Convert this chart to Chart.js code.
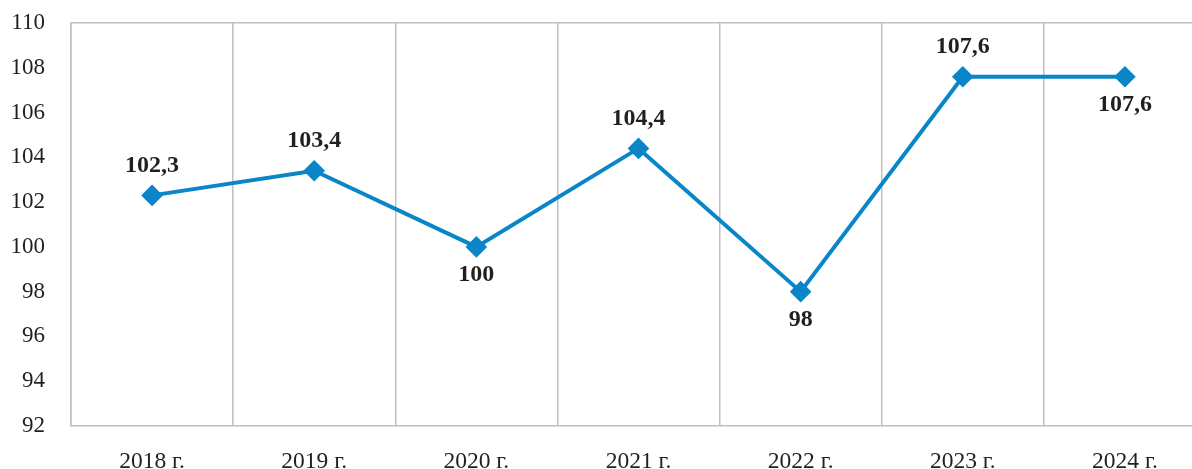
<!DOCTYPE html>
<html><head><meta charset="utf-8">
<script src="https://cdn.jsdelivr.net/npm/chart.js@4/dist/chart.umd.min.js"></script>
<style>
html,body{margin:0;padding:0;background:#fff;overflow:hidden;width:1192px;height:469px;}
#wrap{width:1230px;height:469px;position:relative;}
canvas{display:block;}
</style></head>
<body><div id="wrap"><canvas id="c" width="1218" height="469" style="width:1218px;height:469px"></canvas></div>
<script>
const categories = ['2018 г.','2019 г.','2020 г.','2021 г.','2022 г.','2023 г.','2024 г.'];
const values = [102.3, 103.4, 100, 104.4, 98, 107.6, 107.6];
const labelText = ['102,3','103,4','100','104,4','98','107,6','107,6'];
const labelSide = ['above','above','below','above','below','above','below'];

const labelPlugin = {
  id:'pointLabels',
  afterDatasetsDraw(chart){
    const ctx = chart.ctx;
    const meta = chart.getDatasetMeta(0);
    ctx.save();
    ctx.font = 'bold 24px "Liberation Serif", "Times New Roman", serif';
    ctx.fillStyle = '#231f20';
    ctx.textAlign = 'center';
    ctx.textBaseline = 'middle';
    meta.data.forEach((pt,i)=>{
      const dy = labelSide[i]==='above' ? -30 : 28;
      ctx.fillText(labelText[i], pt.x, pt.y + dy);
    });
    ctx.restore();
  }
};

new Chart(document.getElementById('c'), {
  type:'line',
  data:{labels:categories, datasets:[{
    data:values,
    borderColor:'#0a86c8',
    backgroundColor:'#0a86c8',
    borderWidth:4,
    pointStyle:'rectRot',
    pointRadius:8,
    pointHoverRadius:8,
    pointBackgroundColor:'#0a86c8',
    pointBorderColor:'#0a86c8',
    tension:0
  }]},
  options:{
    responsive:false,
    animation:false,
    events:[],
    layout:{padding:{top:23,right:0,left:0,bottom:0}},
    plugins:{legend:{display:false},tooltip:{enabled:false}},
    scales:{
      x:{
        offset:true,
        grid:{offset:true,color:'#c0c0c0',lineWidth:1.5,drawTicks:false},
        border:{display:true,color:'#c0c0c0',width:1.5},
        ticks:{color:'#231f20',font:{family:'"Liberation Serif", serif',size:23.5},padding:22,maxRotation:0},
        afterFit(s){s.height=43;s.paddingLeft=0;s.paddingRight=0;}
      },
      y:{
        min:92,max:110,
        ticks:{stepSize:2,color:'#231f20',font:{family:'"Liberation Serif", serif',size:23},padding:26},
        grid:{drawTicks:false,lineWidth:1.5,color:(c)=> (c.tick && c.tick.value===110) ? '#c0c0c0' : 'rgba(0,0,0,0)'},
        border:{display:true,color:'#c0c0c0',width:1.5},
        afterFit(s){s.width=71;s.paddingTop=0;s.paddingBottom=0;}
      }
    }
  },
  plugins:[labelPlugin]
});
</script></body></html>
